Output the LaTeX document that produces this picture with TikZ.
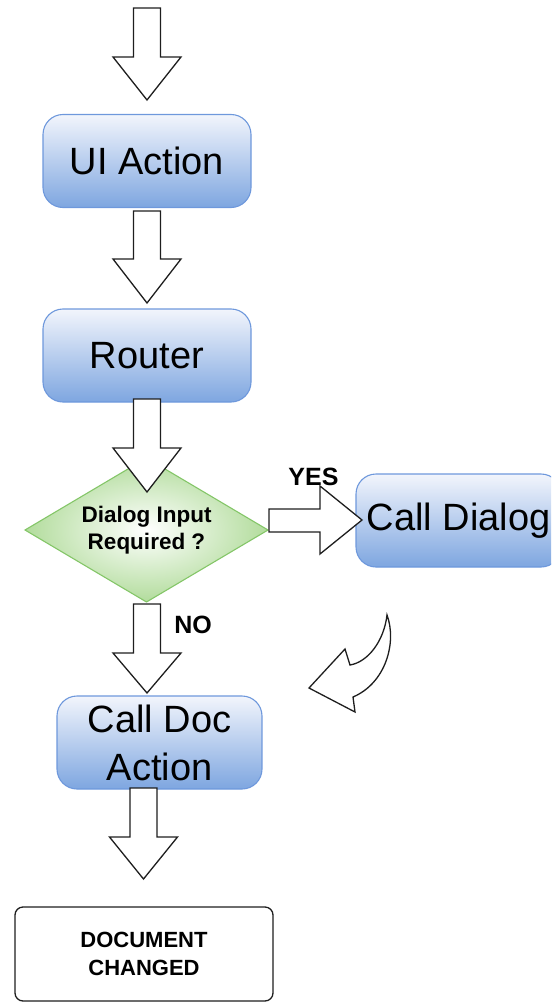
\documentclass[tikz,border=0pt]{standalone}
\usepackage{fontspec}
\setmainfont{Liberation Sans}
\usetikzlibrary{shapes.geometric}
\definecolor{boxtop}{HTML}{F2F5FC}
\definecolor{boxbot}{HTML}{7EA6E0}
\definecolor{boxline}{HTML}{6E98DC}
\definecolor{dgreen}{HTML}{B2DC9C}
\definecolor{dline}{HTML}{84C668}
\definecolor{arrline}{HTML}{1E1E1E}
\tikzset{
  bluebox/.style={rectangle, rounded corners=20pt, draw=boxline, line width=1.1pt,
    top color=boxtop, bottom color=boxbot, minimum width=208pt, minimum height=93pt,
    inner sep=0pt, outer sep=0pt, align=center, font=\fontsize{38}{48}\selectfont},
  decision/.style={diamond, draw=dline, line width=1.1pt, inner color=white, outer color=dgreen,
    aspect=1.6875, minimum width=243pt, minimum height=144pt, inner sep=0pt, outer sep=0pt,
    align=center, font=\bfseries\fontsize{22.5}{27}\selectfont},
  endbox/.style={rectangle, rounded corners=8pt, draw=arrline, line width=1.3pt, fill=white,
    minimum width=258pt, minimum height=94pt, inner sep=0pt, outer sep=0pt, align=center,
    font=\bfseries\fontsize{22}{28}\selectfont},
  blockarrow/.style={draw=arrline, fill=white, line width=1.3pt, line join=miter},
  lbl/.style={inner sep=0pt, anchor=base, font=\bfseries\fontsize{25}{28}\selectfont}
}
\newcommand\vblock[4]{%
  \draw[blockarrow] ({#1-13.5},#2) -- ({#1+13.5},#2) -- ({#1+13.5},#3) -- ({#1+34},#3)
    -- (#1,#4) -- ({#1-34},#3) -- ({#1-13.5},#3) -- cycle;}
\begin{document}
\begin{tikzpicture}[x=1pt,y=-1pt]
\useasboundingbox (0,0) rectangle (551,1003);
\clip (0,0) rectangle (551,1003);
% nodes
\node[bluebox] (ui) at (147,161) {UI Action};
\node[bluebox] (router) at (147,355.5) {Router};
\node[decision] (dq) at (146.5,530) {Dialog Input\\Required ?};
\node[bluebox, minimum width=205pt] (dialog) at (458.5,520.5) {Call Dialog};
\node[bluebox, minimum width=205pt] (doc) at (159.5,742.5) {Call Doc\\Action};
\node[endbox] (changed) at (144,954) {DOCUMENT\\CHANGED};
% block arrows
\vblock{147}{8}{57}{100}
\vblock{147}{211}{259}{303}
\vblock{147}{399}{448}{492}
\vblock{147}{604}{653}{693}
\vblock{143.5}{788}{837}{879}
\draw[blockarrow] (269,509) -- (320,509) -- (320,486) -- (362,520) -- (320,554)
  -- (320,532) -- (269,532) -- cycle;
% labels
\node[lbl] (yes) at (313.5,485) {YES};
\node[lbl] (no) at (193,633) {NO};
% curved return arrow
\draw[blockarrow, line join=miter] (387,615) .. controls (397,642) and (386,683) .. (353,697)
  -- (355,712) -- (309,688) -- (345,649) -- (350,665)
  .. controls (368,662) and (384,641) .. cycle;
\end{tikzpicture}
\end{document}
